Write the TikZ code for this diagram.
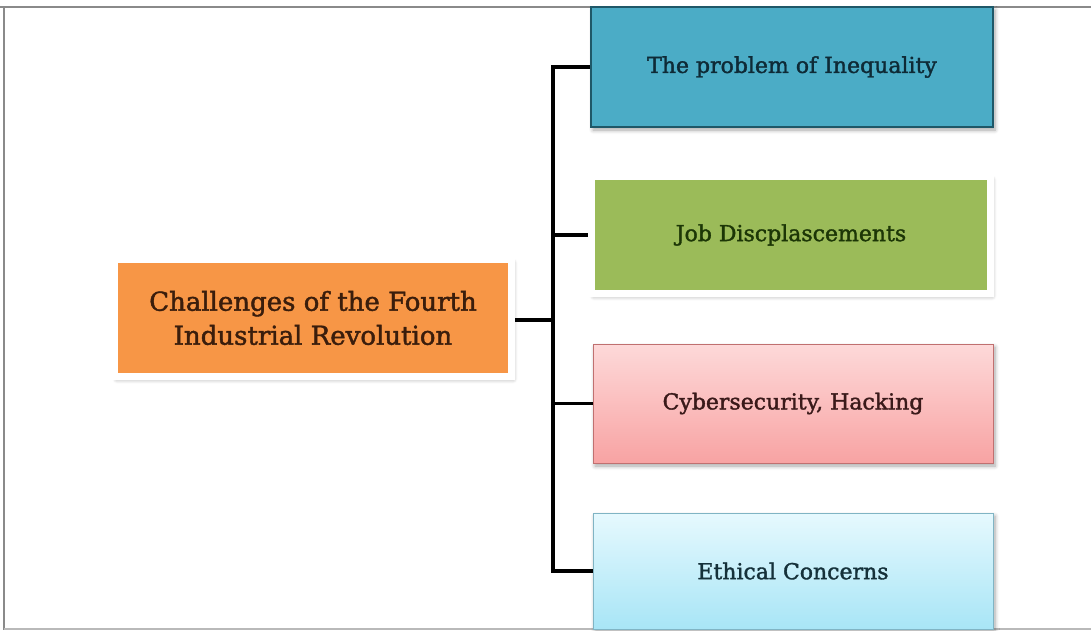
\documentclass[tikz,border=0pt]{standalone}
\usepackage{fontspec}
\setmainfont{DejaVu Serif}
\newfontfamily\boxfont[FakeBold=1.6]{DejaVu Serif}
\usetikzlibrary{shadows.blur}
\pgfdeclarelayer{background}
\pgfsetlayers{background,main}

\definecolor{framegray}{HTML}{8A8A8A}
\definecolor{rootfill}{HTML}{F79646}
\definecolor{roottext}{HTML}{3A1D0C}
\definecolor{bluefill}{HTML}{4BACC6}
\definecolor{blueline}{HTML}{1F5868}
\definecolor{bluetext}{HTML}{0E2A36}
\definecolor{greenfill}{HTML}{9BBB59}
\definecolor{greentext}{HTML}{1C3606}
\definecolor{pinktop}{HTML}{FDD9D9}
\definecolor{pinkbot}{HTML}{F8A3A3}
\definecolor{pinkline}{HTML}{C07070}
\definecolor{pinktext}{HTML}{3A1A1A}
\definecolor{skytop}{HTML}{E6F9FE}
\definecolor{skybot}{HTML}{A8E5F6}
\definecolor{skyline}{HTML}{80B4C4}
\definecolor{skytext}{HTML}{15313A}

\tikzset{
  softshadow/.style={blur shadow={shadow xshift=2pt, shadow yshift=-3pt,
      shadow blur steps=6, shadow blur radius=4pt, shadow opacity=35}},
  box/.style={rectangle, align=center, inner sep=0pt, softshadow},
  whitebox/.style={box, draw=white, line width=7pt},
  rootfont/.style={font=\boxfont\fontsize{26}{34}\selectfont},
  leaffont/.style={font=\boxfont\fontsize{22}{26}\selectfont},
  conn/.style={draw=black, line width=3.6pt},
  rimline/.style={draw=framegray, line width=1.6pt}
}

\begin{document}
\begin{tikzpicture}[x=1pt, y=-1pt]
  \useasboundingbox (0,0) rectangle (1091,630);

  % outer frame
  \draw[rimline] (0,7) -- (1091,7);
  \draw[rimline] (4,7) -- (4,630);
  \draw[rimline, draw=framegray!60] (4,629) -- (1091,629);

  % root topic
  \node[whitebox, fill=rootfill, minimum width=397pt, minimum height=117pt,
        text=roottext, rootfont]
        (root) at (313,318) {Challenges of the Fourth\\Industrial Revolution};

  % child topics
  \node[box, fill=bluefill, draw=blueline, line width=2pt,
        minimum width=402pt, minimum height=120pt,
        text=bluetext, leaffont]
        (c1) at (792,67) {The problem of Inequality};
  \node[whitebox, fill=greenfill, minimum width=399pt, minimum height=117pt,
        text=greentext, leaffont]
        (c2) at (791,235) {Job Discplascements};
  \node[box, top color=pinktop, bottom color=pinkbot, draw=pinkline, line width=1pt,
        minimum width=400pt, minimum height=119pt,
        text=pinktext, leaffont]
        (c3) at (793,403.5) {Cybersecurity, Hacking};
  \node[box, top color=skytop, bottom color=skybot, draw=skyline, line width=1pt,
        minimum width=400pt, minimum height=116pt,
        text=skytext, leaffont]
        (c4) at (793,571) {Ethical Concerns};

  % connectors
  \coordinate (hub) at (553,320);
  \begin{pgfonlayer}{background}
    \draw[conn] (root.east |- hub) -- (hub);
    \draw[conn] (hub) |- (c1.west);
    \draw[conn] (hub) |- (c4.west);
    \draw[conn] (c2.west -| hub) -- (c2.west);
    \draw[conn] (c3.west -| hub) -- (c3.west);
  \end{pgfonlayer}
\end{tikzpicture}
\end{document}
